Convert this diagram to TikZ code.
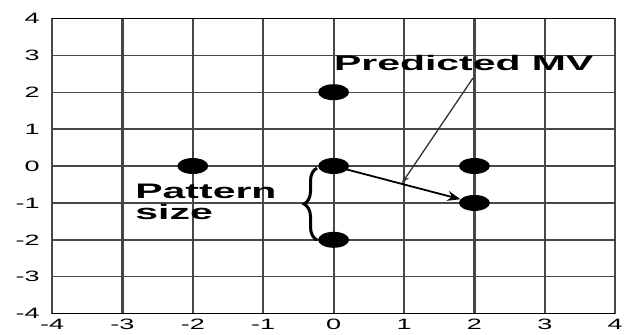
\documentclass[tikz,border=0pt]{standalone}
\usepackage{fontspec}
\setmainfont{Liberation Sans}
\usetikzlibrary{shapes.geometric,arrows.meta,decorations.pathreplacing}
\begin{document}
\begin{tikzpicture}[x=70.4pt,y=36.9pt,
 vline/.style={line width=2.2pt,draw=black!72},
 hline/.style={line width=1.4pt,draw=black!72},
 ticklbl/.style={font=\fontsize{15}{15}\selectfont, xscale=1.8, inner sep=0pt},
 lbl/.style={font=\fontsize{21}{21}\selectfont\bfseries, xscale=1.95, inner sep=0pt, anchor=base west},
 dot/.style={ellipse, fill=black, minimum width=31pt, minimum height=16pt, inner sep=0pt}]
\useasboundingbox (-4.739,-4.553) rectangle (4.153,4.499);
% grid
\foreach \j in {-3,...,3} \draw[hline] (-4,\j) -- (4,\j);
\foreach \i in {-4,...,4} \draw[vline] (\i,-4) -- (\i,4);
\draw[line width=1.2pt] (-4,4) -- (4,4);
\draw[line width=1.2pt] (-4,-4) -- (4,-4);
% tick labels
\foreach \v in {-4,...,4} \node[ticklbl, anchor=east] (ylab\v) at (-4.17,\v) {\v};
\foreach \u in {-4,...,4} \node[ticklbl] (xlab\u) at (\u,-4.29) {\u};
% markers
\node[dot] (m02) at (0,2) {};
\node[dot] (mn20) at (-2,0) {};
\node[dot] (m00) at (0,0) {};
\node[dot] (m20) at (2,0) {};
\node[dot] (m2n1) at (2,-1) {};
\node[dot] (m0n2) at (0,-2) {};
% motion vector
\draw[line width=1.8pt, -{Stealth[length=13pt,width=10pt]}] (m00.center) -- (m2n1);
% labels
\node[lbl] (pmv) at (0.0,2.60) {Predicted MV};
\coordinate (pmvfoot) at (1.98,2.385);
\coordinate (pmvtip) at (0.972,-0.461);
\draw[line width=1.3pt, draw=black!80, -{Stealth[length=8pt,width=6pt]}] (pmvfoot) -- (pmvtip);
\node[lbl] (pat1) at (-2.821,-0.867) {Pattern};
\node[lbl] (pat2) at (-2.821,-1.463) {size};
% brace
\coordinate (bbot) at (-0.236,-2.005);
\coordinate (btop) at (-0.236,-0.054);
\draw[line width=3pt, decorate, decoration={brace, amplitude=13pt}] (bbot) -- (btop);
\end{tikzpicture}
\end{document}
